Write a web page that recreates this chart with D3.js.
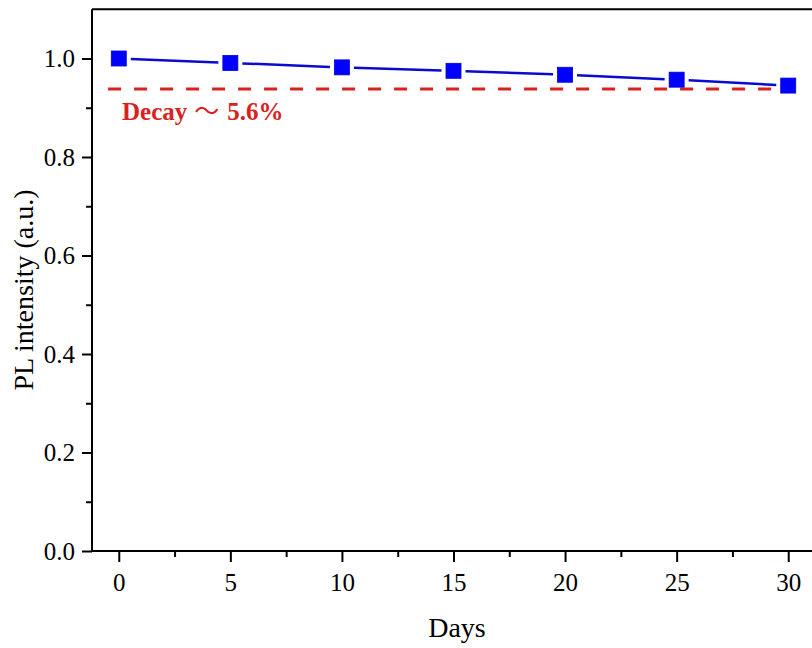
<!DOCTYPE html>
<html>
<head>
<meta charset="utf-8">
<script src="https://cdn.jsdelivr.net/npm/d3@7"></script>
<style>
html,body{margin:0;padding:0;background:#fff;}
svg{display:block;}
</style>
</head>
<body>
<svg id="chart" width="812" height="648"></svg>
<script>
// ---- data ----
const days = [0, 5, 10, 15, 20, 25, 30];
const plIntensity = [1.000, 0.991, 0.982, 0.975, 0.967, 0.957, 0.945];
const xTicks = [0, 5, 10, 15, 20, 25, 30];
const xMinorTicks = [2.5, 7.5, 12.5, 17.5, 22.5, 27.5];
const yTicks = [0.0, 0.2, 0.4, 0.6, 0.8, 1.0];
const yMinorTicks = [0.1, 0.3, 0.5, 0.7, 0.9];
const decayLevel = [0.938];
const decayExtent = [-0.48, 30.17];
const decayLabelParts = ["Decay", "～", "5.6%"];
const xTitle = "Days";
const yTitle = "PL intensity (a.u.)";

// ---- layout ----
const svg = d3.select("#chart");
const L = 92, R = 815, T = 9.25, B = 551;
const x = d3.scaleLinear().domain([-1.2, 31.2]).range([L, R]);
const y = d3.scaleLinear().domain([0, 1.1]).range([B, T]);
const serif = "'Liberation Serif','Times New Roman',serif";

// frame top / right
svg.append("line").attr("x1", L).attr("x2", R).attr("y1", T).attr("y2", T)
  .attr("stroke", "#000").attr("stroke-width", 2);
svg.append("line").attr("x1", R).attr("x2", R).attr("y1", T).attr("y2", B)
  .attr("stroke", "#000").attr("stroke-width", 2);

// x axis
const xAxis = svg.append("g").attr("transform", `translate(0,${B})`)
  .call(d3.axisBottom(x).tickValues(xTicks).tickFormat(d3.format("d")).tickSize(11).tickPadding(11));
const xMinor = svg.append("g").attr("transform", `translate(0,${B})`)
  .call(d3.axisBottom(x).tickValues(xMinorTicks).tickFormat("").tickSize(6));
// y axis
const yAxis = svg.append("g").attr("transform", `translate(${L},0)`)
  .call(d3.axisLeft(y).tickValues(yTicks).tickFormat(d3.format(".1f")).tickSize(10).tickPadding(7));
const yMinor = svg.append("g").attr("transform", `translate(${L},0)`)
  .call(d3.axisLeft(y).tickValues(yMinorTicks).tickFormat("").tickSize(6));

[xAxis, xMinor, yAxis, yMinor].forEach(g => {
  g.select(".domain").attr("stroke", "#000").attr("stroke-width", 2);
  g.selectAll(".tick line").attr("stroke", "#000").attr("stroke-width", 2);
  g.selectAll(".tick text").attr("fill", "#000")
    .style("font-family", serif).style("font-size", "25px");
});
xMinor.select(".domain").remove();
yMinor.select(".domain").remove();
yAxis.select(".domain").attr("d", `M0,${B}V${T}`);
xAxis.select(".domain").attr("d", `M${L},0H${R}`);

// dashed decay line
svg.append("line")
  .attr("x1", x(decayExtent[0])).attr("x2", x(decayExtent[1]))
  .attr("y1", y(decayLevel[0])).attr("y2", y(decayLevel[0]))
  .attr("stroke", "#d9211e").attr("stroke-width", 3)
  .attr("stroke-dasharray", "13,13");

// connecting line segments with gaps around markers
const pts = days.map((d, i) => [x(d), y(plIntensity[i])]);
const gap = 12;
for (let i = 0; i < pts.length - 1; i++) {
  const [x1, y1] = pts[i], [x2, y2] = pts[i + 1];
  const len = Math.hypot(x2 - x1, y2 - y1);
  const ux = (x2 - x1) / len, uy = (y2 - y1) / len;
  svg.append("line")
    .attr("x1", x1 + ux * gap).attr("y1", y1 + uy * gap)
    .attr("x2", x2 - ux * gap).attr("y2", y2 - uy * gap)
    .attr("stroke", "#0a0ad0").attr("stroke-width", 2.5);
}

// markers
const ms = 15;
svg.selectAll("rect.pt").data(days).enter().append("rect")
  .attr("class", "pt")
  .attr("x", (d) => x(d) - ms / 2)
  .attr("y", (d, i) => y(plIntensity[i]) - ms / 2)
  .attr("width", ms).attr("height", ms)
  .attr("fill", "#0000ff").attr("stroke", "#0000e0").attr("stroke-width", 0.8);

// decay label
const dl = svg.append("text")
  .attr("x", 122).attr("y", 120)
  .attr("fill", "#d9211e")
  .style("font-family", serif).style("font-size", "25px").style("font-weight", "bold");
dl.append("tspan").text(decayLabelParts[0]);
dl.append("tspan").attr("dx", 7).style("font-family", "'Noto Sans CJK SC'").style("font-weight", "normal")
  .text(decayLabelParts[1]);
dl.append("tspan").attr("dx", 8).text(decayLabelParts[2]);

// axis titles
svg.append("text")
  .attr("x", 457).attr("y", 637)
  .attr("text-anchor", "middle")
  .style("font-family", serif).style("font-size", "28px")
  .text(xTitle);
svg.append("text")
  .attr("transform", "translate(33,290) rotate(-90)")
  .attr("text-anchor", "middle")
  .style("font-family", serif).style("font-size", "28px")
  .text(yTitle);
</script>
</body>
</html>
